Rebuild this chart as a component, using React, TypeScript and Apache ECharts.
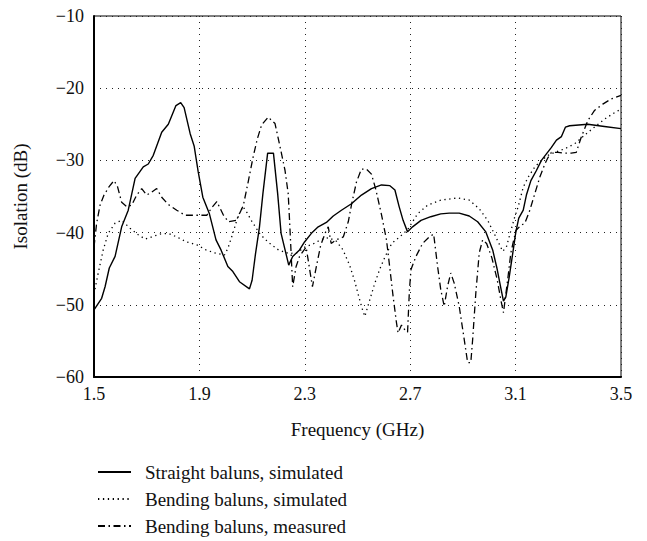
import React, { useEffect, useRef } from "react";
import * as echarts from "echarts";

const X_MIN = 1.5;
const X_MAX = 3.5;
const X_STEP = 0.4;
const Y_MIN = -60;
const Y_MAX = -10;
const Y_STEP = 10;

const seriesNames = [
  "Straight baluns, simulated",
  "Bending baluns, simulated",
  "Bending baluns, measured",
];

const straightFreq = [
  1.5, 1.529, 1.542, 1.558, 1.58, 1.605, 1.63, 1.656, 1.687, 1.706, 1.725, 1.757, 1.782, 1.811, 1.829, 1.842,
  1.865, 1.88, 1.895, 1.913, 1.938, 1.963, 1.982, 2.008, 2.027, 2.052, 2.09, 2.1, 2.113, 2.128, 2.141, 2.159,
  2.181, 2.197, 2.21, 2.239, 2.254, 2.28, 2.299, 2.325, 2.351, 2.382, 2.408, 2.439, 2.477, 2.515, 2.553, 2.591,
  2.623, 2.642, 2.658, 2.673, 2.69, 2.709, 2.741, 2.778, 2.816, 2.848, 2.886, 2.924, 2.956, 2.987, 3.013, 3.029,
  3.044, 3.054, 3.063, 3.076, 3.089, 3.101, 3.112, 3.129, 3.141, 3.158, 3.179, 3.198, 3.217, 3.236, 3.255, 3.274,
  3.289, 3.305, 3.374, 3.437, 3.5,
];
const straightDb = [
  -50.7, -49.1, -47.5, -44.9, -43.3, -39.2, -36.9, -32.5, -30.9, -30.5, -29.3, -26.1, -25.0, -22.4, -22.0, -22.7,
  -26.3, -28.0, -31.5, -35.1, -37.4, -41.0, -42.4, -44.7, -45.4, -46.8, -47.8, -46.6, -42.9, -39.2, -34.6, -29.0,
  -29.0, -34.6, -40.1, -44.5, -43.3, -42.4, -41.3, -40.1, -39.2, -38.6, -37.7, -36.9, -36.0, -34.8, -33.9, -33.4,
  -33.5, -34.1, -36.4, -38.3, -39.9, -39.2, -38.3, -37.8, -37.4, -37.3, -37.3, -37.7, -38.5, -39.9, -42.4, -44.9,
  -47.7, -49.5, -48.9, -46.1, -42.9, -39.9, -38.0, -36.9, -34.8, -32.8, -31.4, -30.0, -29.1, -28.2, -27.2, -26.7,
  -25.4, -25.2, -25.0, -25.3, -25.6,
];

const bendSimFreq = [
  1.5, 1.516, 1.535, 1.554, 1.58, 1.605, 1.637, 1.668, 1.694, 1.719, 1.751, 1.782, 1.814, 1.852, 1.89, 1.925,
  1.957, 1.995, 2.008, 2.027, 2.046, 2.065, 2.08, 2.1, 2.13, 2.16, 2.2, 2.24, 2.27, 2.3, 2.33, 2.36,
  2.39, 2.42, 2.445, 2.47, 2.49, 2.505, 2.52, 2.528, 2.545, 2.565, 2.585, 2.605, 2.63, 2.66, 2.69, 2.728,
  2.766, 2.816, 2.88, 2.924, 2.962, 2.994, 3.025, 3.051, 3.065, 3.08, 3.097, 3.11, 3.129, 3.148, 3.173, 3.198,
  3.223, 3.248, 3.286, 3.324, 3.362, 3.399, 3.437, 3.475, 3.5,
];
const bendSimDb = [
  -48.5, -45.6, -42.4, -40.1, -38.7, -38.3, -39.4, -40.3, -40.9, -40.6, -40.2, -40.1, -40.6, -41.3, -41.7, -42.4,
  -42.8, -43.1, -42.2, -40.1, -37.8, -36.4, -37.2, -38.5, -40.2, -41.3, -42.4, -42.9, -42.8, -42.0, -41.6, -41.0,
  -40.7, -41.2, -42.4, -44.5, -46.8, -48.9, -50.8, -51.6, -49.5, -47.1, -45.0, -43.3, -41.5, -40.6, -39.6, -37.4,
  -36.2, -35.5, -35.2, -35.5, -36.7, -38.3, -40.6, -42.6, -42.0, -40.0, -37.8, -36.4, -33.7, -32.3, -30.9, -30.0,
  -29.3, -28.9, -28.4, -27.7, -26.5, -25.4, -24.3, -23.4, -22.9,
];

const bendMeasFreq = [
  1.5, 1.51, 1.523, 1.538, 1.558, 1.576, 1.589, 1.605, 1.624, 1.643, 1.662, 1.681, 1.7, 1.719, 1.738, 1.757,
  1.782, 1.814, 1.846, 1.871, 1.9, 1.928, 1.948, 1.966, 1.99, 2.01, 2.041, 2.067, 2.085, 2.104, 2.12, 2.136,
  2.161, 2.187, 2.206, 2.225, 2.237, 2.244, 2.254, 2.267, 2.28, 2.305, 2.318, 2.329, 2.345, 2.36, 2.378, 2.389,
  2.4, 2.42, 2.446, 2.465, 2.478, 2.496, 2.515, 2.534, 2.553, 2.57, 2.591, 2.61, 2.622, 2.635, 2.648, 2.654,
  2.667, 2.68, 2.69, 2.697, 2.703, 2.722, 2.747, 2.772, 2.789, 2.804, 2.816, 2.829, 2.842, 2.854, 2.867, 2.886,
  2.905, 2.918, 2.93, 2.937, 2.949, 2.962, 2.975, 2.99, 3.01, 3.03, 3.045, 3.054, 3.07, 3.082, 3.101, 3.12,
  3.135, 3.154, 3.173, 3.192, 3.211, 3.223, 3.236, 3.261, 3.286, 3.311, 3.33, 3.349, 3.374, 3.399, 3.431, 3.462,
  3.5,
];
const bendMeasDb = [
  -42.0, -38.7, -36.2, -34.8, -33.6, -32.8, -33.6, -35.8, -36.4, -36.2, -34.8, -33.9, -34.8, -34.4, -33.9, -35.1,
  -36.1, -36.9, -37.6, -37.6, -37.6, -37.6, -36.5, -35.7, -37.5, -38.5, -38.3, -36.2, -33.0, -29.5, -27.0, -25.1,
  -24.0, -24.9, -28.1, -31.4, -34.6, -39.7, -47.5, -44.7, -43.3, -42.0, -45.0, -47.5, -44.5, -41.8, -40.0, -39.2,
  -41.5, -41.0, -40.6, -38.5, -36.0, -33.0, -31.2, -31.2, -31.9, -34.1, -37.5, -41.0, -44.7, -48.8, -52.5, -53.9,
  -52.8, -53.5, -53.8, -48.0, -45.1, -43.3, -41.5, -40.6, -40.2, -44.7, -47.9, -50.2, -47.4, -45.6, -47.0, -50.2,
  -54.8, -58.0, -58.0, -54.8, -48.4, -42.8, -41.0, -41.5, -43.5, -46.5, -49.5, -51.1, -46.5, -42.8, -39.7, -39.0,
  -38.7, -36.9, -34.6, -32.3, -30.5, -29.6, -28.9, -28.9, -29.0, -29.0, -28.9, -26.8, -24.5, -23.1, -22.2, -21.5,
  -21.0,
];

const FONT = "'Liberation Serif', 'DejaVu Serif', serif";
const FS = 18;
const FS_TEXT = 19;

function pairs(fs: number[], vs: number[]) {
  return fs.map((f, i) => [f - X_MIN, vs[i]]);
}

export default function App() {
  const ref = useRef<HTMLDivElement>(null);
  useEffect(() => {
    if (!ref.current) return;
    const chart = echarts.init(ref.current, null, { renderer: "svg" });
    const lineBase = { type: "line", showSymbol: false, symbol: "none", smooth: false, silent: true };
    chart.setOption({
      animation: false,
      backgroundColor: "#ffffff",
      textStyle: { fontFamily: FONT, color: "#000" },
      grid: {
        left: 94,
        top: 16,
        right: 26,
        bottom: 164,
        show: true,
        borderColor: "#000",
        borderWidth: 1,
        backgroundColor: "transparent",
      },
      xAxis: {
        type: "value",
        min: 0,
        max: X_MAX - X_MIN,
        interval: X_STEP,
        name: "Frequency (GHz)",
        nameLocation: "middle",
        nameGap: 43,
        nameTextStyle: { fontFamily: FONT, fontSize: FS_TEXT, color: "#111" },
        axisLine: { show: true, lineStyle: { color: "#000", width: 2 } },
        axisTick: { show: false },
        axisLabel: {
          margin: 8,
          fontFamily: FONT,
          fontSize: FS,
          color: "#111",
          formatter: (v: number) => (v + X_MIN).toFixed(1),
        },
        splitLine: { show: true, lineStyle: { color: "#222", width: 1, type: [1, 5] } },
      },
      yAxis: {
        type: "value",
        min: Y_MIN,
        max: Y_MAX,
        interval: Y_STEP,
        name: "Isolation (dB)",
        nameLocation: "middle",
        nameGap: 64,
        nameTextStyle: { fontFamily: FONT, fontSize: FS_TEXT, color: "#111" },
        axisLine: { show: true, lineStyle: { color: "#000", width: 2 } },
        axisTick: { show: false },
        axisLabel: {
          margin: 10,
          fontFamily: FONT,
          fontSize: FS,
          color: "#111",
          formatter: (v: number) => (v < 0 ? "\u2212" + Math.abs(v) : String(v)),
        },
        splitLine: { show: true, lineStyle: { color: "#222", width: 1, type: [1, 5] } },
      },
      legend: {
        show: true,
        orient: "vertical",
        left: 97,
        top: 462,
        padding: 0,
        itemWidth: 33,
        itemHeight: 14,
        itemGap: 7,
        itemStyle: { color: "rgba(0,0,0,0)", borderColor: "rgba(0,0,0,0)", borderWidth: 0 },
        textStyle: { fontFamily: FONT, fontSize: FS_TEXT, color: "#111", lineHeight: 20, padding: [0, 0, 0, 9] },
        data: seriesNames,
      },
      series: [
        {
          ...lineBase,
          name: seriesNames[0],
          data: pairs(straightFreq, straightDb),
          lineStyle: { color: "#000", width: 1.4, type: "solid" },
          itemStyle: { color: "#000" },
        },
        {
          ...lineBase,
          name: seriesNames[1],
          data: pairs(bendSimFreq, bendSimDb),
          lineStyle: { color: "#000", width: 1.3, type: [1.3, 3.6] },
          itemStyle: { color: "#000" },
        },
        {
          ...lineBase,
          name: seriesNames[2],
          data: pairs(bendMeasFreq, bendMeasDb),
          lineStyle: { color: "#000", width: 1.3, type: [7, 3.5, 1.5, 3.5] },
          itemStyle: { color: "#000" },
        },
      ],
    });
    return () => chart.dispose();
  }, []);
  return (
    <div
      ref={ref}
      style={{ position: "fixed", left: 0, top: 0, width: 647, height: 541, background: "#fff" }}
    />
  );
}
